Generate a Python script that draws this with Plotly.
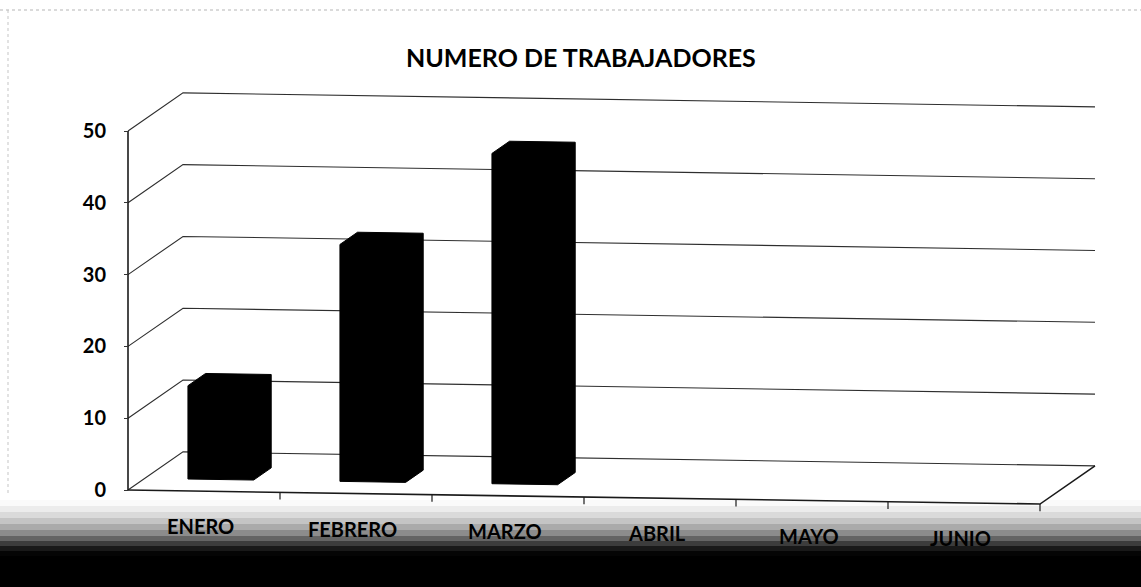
import plotly.graph_objects as go

# ---- chart data -------------------------------------------------------
months = ["ENERO", "FEBRERO", "MARZO", "ABRIL", "MAYO", "JUNIO"]
workers = [13, 33, 46, 0, 0, 0]
y_ticks = [0, 10, 20, 30, 40, 50]
chart_title = "NUMERO DE TRABAJADORES"

# ---- canvas / axis scaling -------------------------------------------
W, H = 1141, 587
PX_PER_CAT = 152.0      # pixels per category slot
PX_PER_VAL = 7.18       # pixels per worker
AXIS_LEFT_PX = 128      # front-left corner of the floor
FLOOR_PX = 490          # front floor line (value 0)

X_MIN = -0.5 - AXIS_LEFT_PX / PX_PER_CAT
X_MAX = X_MIN + W / PX_PER_CAT
Y_MIN = -(H - FLOOR_PX) / PX_PER_VAL
Y_MAX = Y_MIN + H / PX_PER_VAL

# oblique projection used for the pseudo 3-D box
DEPTH_X = 55 / PX_PER_CAT     # category units moved per full depth
DEPTH_Y = 39 / PX_PER_VAL     # value units moved per full depth
SKEW = -0.0154 * PX_PER_CAT / PX_PER_VAL  # slight downward slant to the right
X_LEFT = -0.5
X_RIGHT = len(months) - 0.5
V_TOP = max(y_ticks)

BAR_HALF = 0.216
BAR_D1, BAR_D2 = 0.305, 0.625


def proj(c, v, d):
    """Map (category, value, depth) onto the 2-D axes."""
    x = c + DEPTH_X * d
    y = v + DEPTH_Y * d + SKEW * (x - X_LEFT)
    return x, y


def polyline(points):
    xs, ys = [], []
    for seg in points:
        for p in seg:
            xs.append(p[0])
            ys.append(p[1])
        xs.append(None)
        ys.append(None)
    return xs, ys


fig = go.Figure()

# side-wall and back-wall gridlines
grid_segments = []
for v in y_ticks:
    grid_segments.append([proj(X_LEFT, v, 0), proj(X_LEFT, v, 1), proj(X_RIGHT, v, 1)])
gx, gy = polyline(grid_segments)
fig.add_trace(go.Scatter(x=gx, y=gy, mode="lines",
                         line=dict(color="#2e2e2e", width=1.1),
                         hoverinfo="skip", showlegend=False))

# floor front edge, right edge and front vertical axis
floor = [[proj(X_LEFT, 0, 0), proj(X_RIGHT, 0, 0), proj(X_RIGHT, 0, 1)],
         [proj(X_LEFT, 0, 0), proj(X_LEFT, V_TOP, 0)]]
fx, fy = polyline(floor)
fig.add_trace(go.Scatter(x=fx, y=fy, mode="lines",
                         line=dict(color="#1a1a1a", width=1.6),
                         hoverinfo="skip", showlegend=False))

# category tick marks below the floor
ticks = [[proj(k - 0.5, 0, 0), proj(k - 0.5, -1.0, 0)] for k in range(1, len(months) + 1)]
tx, ty = polyline(ticks)
fig.add_trace(go.Scatter(x=tx, y=ty, mode="lines",
                         line=dict(color="#1a1a1a", width=1.2),
                         hoverinfo="skip", showlegend=False))

# solid black 3-D columns
for c, v in enumerate(workers):
    if v <= 0:
        continue
    pts = [proj(c - BAR_HALF, 0, BAR_D1), proj(c - BAR_HALF, v, BAR_D1),
           proj(c - BAR_HALF, v, BAR_D2), proj(c + BAR_HALF, v, BAR_D2),
           proj(c + BAR_HALF, 0, BAR_D2), proj(c + BAR_HALF, 0, BAR_D1)]
    pts.append(pts[0])
    fig.add_trace(go.Scatter(
        x=[p[0] for p in pts], y=[p[1] for p in pts],
        mode="lines", fill="toself", fillcolor="black",
        line=dict(color="black", width=1),
        name=months[c], hovertemplate=f"{months[c]}: {v}<extra></extra>",
        showlegend=False,
    ))

# month labels under the floor
annotations = []
for c, m in enumerate(months):
    lx, ly = proj(c - 0.02, -4.9, 0)
    annotations.append(dict(
        x=lx, y=ly, xref="x", yref="y", text=m, showarrow=False,
        xanchor="center", yanchor="middle",
        font=dict(family="Lato", size=20, color="black", weight="bold"),
    ))

annotations.append(dict(
    x=581 / W, y=1 - 57 / H, xref="paper", yref="paper", text=chart_title,
    showarrow=False, xanchor="center", yanchor="middle",
    font=dict(family="Lato", size=25, color="black", weight="bold"),
))

# dark scanner band along the bottom edge, built from thin grey strips
band_profile = [(500, 250), (506, 236), (512, 218), (518, 196), (524, 170),
                (530, 140), (536, 100), (541, 60), (546, 25), (551, 5), (556, 0)]
shapes = []
for i, (top_px, grey) in enumerate(band_profile):
    bottom_px = band_profile[i + 1][0] if i + 1 < len(band_profile) else H
    shapes.append(dict(
        type="rect", xref="paper", yref="paper", layer="below",
        x0=0, x1=1, y0=1 - bottom_px / H, y1=1 - top_px / H,
        fillcolor=f"rgb({grey},{grey},{grey})", line=dict(width=0),
    ))

# faint page border left by the scanner
shapes += [
    dict(type="line", xref="paper", yref="paper", x0=0, x1=1,
         y0=1 - 10 / H, y1=1 - 10 / H,
         line=dict(color="#b5b5b5", width=1, dash="dot")),
    dict(type="line", xref="paper", yref="paper", x0=8 / W, x1=8 / W,
         y0=1 - 10 / H, y1=1 - 495 / H,
         line=dict(color="#c5c5c5", width=1, dash="dot")),
]

fig.update_layout(
    width=W, height=H,
    margin=dict(l=0, r=0, t=0, b=0),
    paper_bgcolor="white", plot_bgcolor="rgba(0,0,0,0)",
    showlegend=False,
    annotations=annotations,
    shapes=shapes,
    xaxis=dict(range=[X_MIN, X_MAX], visible=False, domain=[0, 1], fixedrange=True),
    yaxis=dict(
        range=[Y_MIN, Y_MAX], domain=[0, 1],
        anchor="free", position=AXIS_LEFT_PX / W,
        tickvals=y_ticks, ticktext=[str(t) for t in y_ticks],
        showgrid=False, zeroline=False, showline=False,
        ticks="outside", ticklen=4, tickcolor="#333", tickwidth=1,
        ticklabelstandoff=14,
        tickfont=dict(family="Lato", size=20, color="black", weight="bold"),
        automargin=False, fixedrange=True,
    ),
)

fig.write_html("out.html")
